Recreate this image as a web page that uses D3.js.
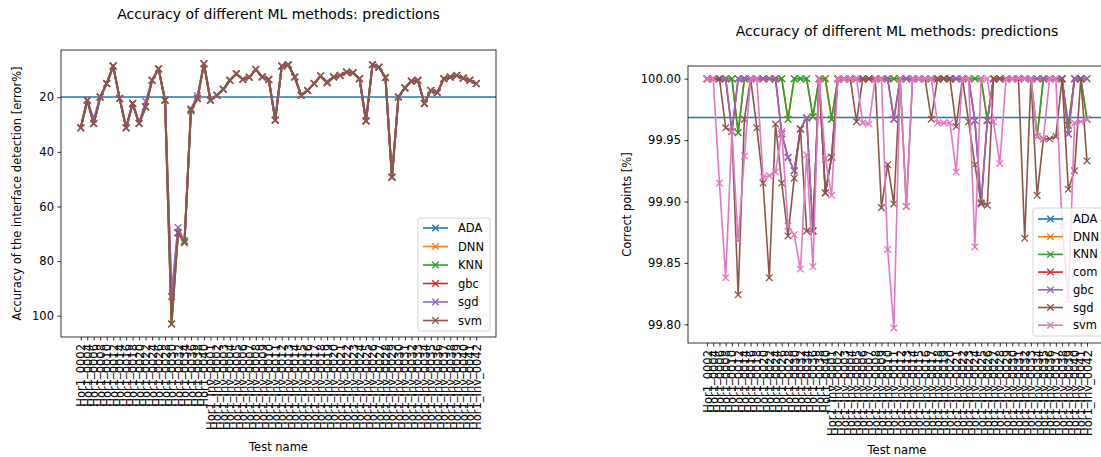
<!DOCTYPE html>
<html>
<head>
<meta charset="utf-8">
<script src="https://cdn.jsdelivr.net/npm/d3@7"></script>
<style>
  body { margin: 0; background: #fff; }
  svg text { font-family: "DejaVu Sans", sans-serif; fill: #000; }
</style>
</head>
<body>
<div id="chart"></div>
<script>
// Test names (x tick labels)
const testNames = [
  'Hor1_0002', 'Hor1_0004', 'Hor1_0006', 'Hor1_0008', 'Hor1_0010', 'Hor1_0012', 'Hor1_0014',
  'Hor1_0016', 'Hor1_0018', 'Hor1_0020', 'Hor1_0022', 'Hor1_0024', 'Hor1_0026', 'Hor1_0028',
  'Hor1_0030', 'Hor1_0032', 'Hor1_0034', 'Hor1_0036', 'Hor1_0038', 'Hor1_0040',
  'Hor1_Inv_0001', 'Hor1_Inv_0002', 'Hor1_Inv_0003', 'Hor1_Inv_0004', 'Hor1_Inv_0005',
  'Hor1_Inv_0006', 'Hor1_Inv_0007', 'Hor1_Inv_0008', 'Hor1_Inv_0009', 'Hor1_Inv_0010',
  'Hor1_Inv_0011', 'Hor1_Inv_0012', 'Hor1_Inv_0013', 'Hor1_Inv_0014', 'Hor1_Inv_0015',
  'Hor1_Inv_0016', 'Hor1_Inv_0017', 'Hor1_Inv_0018', 'Hor1_Inv_0019', 'Hor1_Inv_0020',
  'Hor1_Inv_0021', 'Hor1_Inv_0022', 'Hor1_Inv_0023', 'Hor1_Inv_0024', 'Hor1_Inv_0025',
  'Hor1_Inv_0026', 'Hor1_Inv_0027', 'Hor1_Inv_0028', 'Hor1_Inv_0029', 'Hor1_Inv_0030',
  'Hor1_Inv_0031', 'Hor1_Inv_0032', 'Hor1_Inv_0033', 'Hor1_Inv_0034', 'Hor1_Inv_0035',
  'Hor1_Inv_0036', 'Hor1_Inv_0037', 'Hor1_Inv_0038', 'Hor1_Inv_0039', 'Hor1_Inv_0040',
  'Hor1_Inv_0041', 'Hor1_Inv_0042'
];

// Left panel: interface detection error [%]
const leftMethods = ['ADA', 'DNN', 'KNN', 'gbc', 'sgd', 'svm'];
const leftAdaLevel = 19.9;
const leftDnn = [31.2, 21.1, 29.6, 19.9, 15.0, 8.6, 20.5, 31.2, 22.3, 29.6, 23.5, 13.8, 9.6, 21.1, 103.0, 69.6, 73.2, 24.4, 20.5, 7.7,
  21.1, 19.3, 17.1, 13.8, 11.4, 13.5, 12.7, 9.8, 12.6, 13.5, 28.4, 8.6, 8.1, 12.6, 19.3, 17.5, 15.0, 12.2, 14.7, 12.6,
  12.0, 10.8, 11.0, 13.2, 28.7, 8.1, 9.0, 12.8, 49.3, 19.9, 16.6, 14.1, 13.8, 22.3, 17.5, 18.3, 13.2, 12.6, 12.0, 13.0, 13.8, 15.0];
const leftKnn = [31.2, 21.1, 29.6, 19.9, 15.0, 8.6, 20.5, 31.2, 22.3, 29.6, 23.5, 13.8, 9.6, 21.1, 103.0, 69.6, 72.5, 25.0, 20.5, 7.7,
  21.1, 19.3, 17.1, 13.8, 11.4, 13.5, 12.7, 9.8, 12.6, 13.5, 28.4, 8.6, 8.1, 12.6, 19.3, 17.5, 15.0, 12.2, 14.7, 12.6,
  12.0, 10.8, 11.0, 13.2, 28.7, 8.1, 9.0, 12.8, 49.3, 19.9, 16.6, 14.1, 13.8, 22.3, 17.5, 18.3, 13.2, 12.6, 12.0, 13.0, 13.8, 15.0];
const leftGbc = [31.2, 21.1, 29.6, 19.9, 15.0, 8.6, 20.5, 31.2, 22.3, 29.6, 23.5, 13.8, 9.6, 21.1, 93.0, 69.6, 73.2, 24.4, 20.5, 7.7,
  21.1, 19.3, 17.1, 13.8, 11.4, 13.5, 12.7, 9.8, 12.6, 13.5, 28.4, 8.6, 8.1, 12.6, 19.3, 17.5, 15.0, 12.2, 14.7, 12.6,
  12.0, 10.8, 11.0, 13.2, 28.7, 8.1, 9.0, 12.8, 49.3, 19.9, 16.6, 14.1, 13.8, 22.3, 17.5, 18.3, 13.2, 12.6, 12.0, 13.0, 13.8, 15.0];
const leftSgd = [31.2, 21.1, 28.0, 19.9, 15.0, 8.6, 20.5, 31.2, 22.3, 29.6, 21.5, 13.8, 9.6, 21.1, 93.0, 67.7, 73.2, 24.4, 19.5, 7.7,
  21.1, 19.3, 17.1, 13.8, 11.4, 13.5, 12.7, 9.8, 12.6, 13.5, 28.4, 8.6, 8.1, 12.6, 19.3, 17.5, 15.0, 12.2, 14.2, 12.6,
  12.0, 10.8, 11.0, 13.2, 28.7, 8.1, 9.0, 12.8, 49.3, 19.9, 16.6, 14.1, 13.8, 22.3, 17.5, 18.3, 13.2, 12.6, 12.0, 13.0, 13.8, 15.0];
const leftSvm = [31.2, 21.1, 29.6, 19.9, 15.0, 8.6, 20.5, 31.2, 22.3, 29.6, 23.5, 13.8, 9.6, 21.1, 103.0, 69.6, 73.2, 24.4, 20.5, 7.7,
  21.1, 19.3, 17.1, 13.8, 11.4, 13.5, 12.7, 9.8, 12.6, 13.5, 28.4, 8.6, 8.1, 12.6, 19.3, 17.5, 15.0, 12.2, 14.7, 12.6,
  12.0, 10.8, 11.0, 13.2, 28.7, 8.1, 9.0, 12.8, 49.3, 19.9, 16.6, 14.1, 13.8, 22.3, 17.5, 18.3, 13.2, 12.6, 12.0, 13.0, 13.8, 15.0];
const leftTicks = [20, 40, 60, 80, 100];

// Right panel: correct points [%]
const rightMethods = ['ADA', 'DNN', 'KNN', 'com', 'gbc', 'sgd', 'svm'];
const rightAdaLevel = 99.9684;
const rightKnn = [100, 100, 100, 100, 100, 99.956, 100, 100, 100, 100, 100, 100, 100, 99.967, 100, 100, 100, 99.969, 100, 100,
  99.967, 100, 100, 100, 100, 100, 100, 100, 100, 100, 100, 100, 100, 100, 100, 100, 100, 100, 100, 100,
  100, 100, 100, 100, 100, 99.966, 100, 100, 100, 100, 100, 100, 100, 99.953, 100, 100, 100, 100, 99.962, 100, 100, 99.967];
const rightDnn = [100, 100, 100, 100, 100, 99.956, 100, 100, 100, 100, 100, 100, 100, 99.967, 100, 100, 100, 99.969, 100, 100,
  99.967, 100, 100, 100, 100, 100, 100, 100, 100, 100, 100, 100, 100, 100, 100, 100, 100, 100, 100, 100,
  100, 100, 100, 100, 100, 99.966, 100, 100, 100, 100, 100, 100, 100, 99.953, 100, 100, 100, 100, 99.962, 100, 100, 99.967];
const rightGbc = [100, 100, 100, 100, 99.957, 100, 100, 100, 100, 100, 100, 100, 99.955, 99.936, 99.925, 99.959, 99.968, 99.876, 100, 99.907,
  99.936, 100, 100, 100, 100, 100, 100, 100, 100, 100, 99.967, 100, 100, 100, 100, 100, 100, 100, 100, 100,
  100, 100, 100, 99.966, 99.898, 99.966, 100, 100, 100, 100, 100, 100, 100, 100, 100, 100, 100, 100, 99.955, 100, 100, 100];
const rightCom = [100, 100, 100, 100, 99.957, 100, 100, 100, 100, 100, 100, 100, 99.955, 99.936, 99.925, 99.959, 99.968, 99.876, 100, 99.907,
  99.936, 100, 100, 100, 100, 100, 100, 100, 100, 100, 99.967, 100, 100, 100, 100, 100, 100, 100, 100, 100,
  100, 100, 100, 99.966, 99.898, 99.966, 100, 100, 100, 100, 100, 100, 100, 100, 100, 100, 100, 100, 99.955, 100, 100, 100];
const rightSgd = [100, 100, 100, 99.960, 99.957, 99.824, 99.967, 100, 99.960, 99.915, 99.838, 99.963, 99.915, 99.872, 99.919, 99.959, 99.876, 99.876, 100, 99.907,
  99.936, 100, 100, 100, 99.965, 100, 100, 100, 99.895, 99.930, 99.898, 100, 99.896, 100, 100, 100, 99.967, 100, 100, 100,
  99.961, 100, 99.965, 99.930, 99.899, 99.897, 100, 100, 100, 100, 100, 99.870, 100, 99.905, 99.951, 99.951, 99.953, 100, 99.910, 99.925, 100, 99.933];
const rightSvm = [100, 100, 99.915, 99.838, 99.957, 99.868, 99.937, 100, 100, 99.920, 99.921, 99.924, 99.957, 99.880, 99.873, 99.845, 99.938, 99.847, 100, 99.935,
  99.905, 100, 100, 100, 100, 99.964, 99.963, 100, 100, 99.861, 99.797, 100, 99.896, 100, 100, 100, 100, 99.964, 99.964, 99.964,
  99.924, 100, 100, 99.863, 100, 100, 99.965, 99.931, 100, 100, 100, 100, 100, 99.953, 99.951, 100, 100, 99.880, 99.820, 99.964, 99.965, 99.967];
const rightTicks = [99.80, 99.85, 99.90, 99.95, 100.00];

const colors = ['#1f77b4', '#ff7f0e', '#2ca02c', '#d62728', '#9467bd', '#8c564b', '#e377c2'];

const width = 1101;
const height = 457;

const svg = d3.select('#chart')
  .append('svg')
  .attr('width', width)
  .attr('height', height);

// x marker shape
function cross(r) {
  return `M${-r},${-r}L${r},${r}M${-r},${r}L${r},${-r}`;
}

function drawPanel(cfg) {
  const g = svg.append('g');
  const n = testNames.length;

  const x = d3.scaleLinear()
    .domain([-0.05 * (n - 1), (n - 1) * 1.05])
    .range([cfg.left, cfg.right]);
  const y = d3.scaleLinear()
    .domain(cfg.yDomain)
    .range(cfg.yRange);

  // clip marks to the axes box
  const clipId = 'clip-' + cfg.id;
  svg.append('clipPath').attr('id', clipId)
    .append('rect')
    .attr('x', cfg.left).attr('y', cfg.top)
    .attr('width', cfg.right - cfg.left).attr('height', cfg.bottom - cfg.top);

  const plot = g.append('g').attr('clip-path', `url(#${clipId})`);

  // reference level (ADA)
  plot.append('line')
    .attr('x1', cfg.left).attr('x2', cfg.right)
    .attr('y1', y(cfg.refLevel)).attr('y2', y(cfg.refLevel))
    .attr('stroke', colors[0])
    .attr('stroke-width', 1.6);

  const line = d3.line()
    .x((d, i) => x(i))
    .y(d => y(d));

  cfg.series.forEach(s => {
    plot.append('path')
      .datum(s.values)
      .attr('d', line)
      .attr('fill', 'none')
      .attr('stroke', s.color)
      .attr('stroke-width', cfg.lineWidth)
      .attr('stroke-linejoin', 'round');

    plot.selectAll(null)
      .data(s.values)
      .enter()
      .append('path')
      .attr('transform', (d, i) => `translate(${x(i)},${y(d)})`)
      .attr('d', cross(3.3))
      .attr('stroke', s.color)
      .attr('stroke-width', 1.3);
  });

  // axes
  const xAxis = d3.axisBottom(x)
    .tickValues(d3.range(n))
    .tickFormat(i => testNames[i])
    .tickSize(3.5)
    .tickPadding(3.5);

  const xg = g.append('g')
    .attr('transform', `translate(0,${cfg.bottom})`)
    .call(xAxis);
  xg.select('.domain').remove();
  xg.selectAll('line').attr('stroke', '#000').attr('stroke-width', 0.8);
  xg.selectAll('text')
    .attr('transform', 'rotate(-90)')
    .attr('text-anchor', 'end')
    .attr('x', -7)
    .attr('y', 0)
    .attr('dy', '0.35em')
    .attr('font-size', '11.5px')
    .attr('font-family', '"DejaVu Sans", sans-serif');

  const yAxis = d3.axisLeft(y)
    .tickValues(cfg.yTicks)
    .tickFormat(cfg.tickFormat)
    .tickSize(3.5)
    .tickPadding(3.5);

  const yg = g.append('g')
    .attr('transform', `translate(${cfg.left},0)`)
    .call(yAxis);
  yg.select('.domain').remove();
  yg.selectAll('line').attr('stroke', '#000').attr('stroke-width', 0.8);
  yg.selectAll('text')
    .attr('font-size', '11.5px')
    .attr('font-family', '"DejaVu Sans", sans-serif');

  // frame
  g.append('rect')
    .attr('x', cfg.left).attr('y', cfg.top)
    .attr('width', cfg.right - cfg.left).attr('height', cfg.bottom - cfg.top)
    .attr('fill', 'none')
    .attr('stroke', '#000')
    .attr('stroke-width', 0.8);

  // title and labels
  g.append('text')
    .attr('x', (cfg.left + cfg.right) / 2)
    .attr('y', cfg.titleY)
    .attr('text-anchor', 'middle')
    .attr('font-size', '14px')
    .text('Accuracy of different ML methods: predictions');

  g.append('text')
    .attr('x', (cfg.left + cfg.right) / 2)
    .attr('y', cfg.xLabelY)
    .attr('text-anchor', 'middle')
    .attr('font-size', '11.5px')
    .text('Test name');

  g.append('text')
    .attr('transform', `translate(${cfg.yLabelX},${(cfg.top + cfg.bottom) / 2}) rotate(-90)`)
    .attr('text-anchor', 'middle')
    .attr('font-size', '11.5px')
    .text(cfg.yLabel);

  // legend
  const lg = g.append('g');
  lg.append('rect')
    .attr('x', cfg.legend.x).attr('y', cfg.legend.y)
    .attr('width', cfg.legend.w).attr('height', cfg.legend.h)
    .attr('rx', 2)
    .attr('fill', '#fff').attr('fill-opacity', 0.8)
    .attr('stroke', '#ccc').attr('stroke-width', 0.8);

  cfg.methods.forEach((m, k) => {
    const ly = cfg.legend.y + cfg.legend.first + k * cfg.legend.step;
    const lx = cfg.legend.x + 5;
    lg.append('line')
      .attr('x1', lx).attr('x2', lx + 25)
      .attr('y1', ly).attr('y2', ly)
      .attr('stroke', colors[k]).attr('stroke-width', 1.6);
    lg.append('path')
      .attr('transform', `translate(${lx + 12.5},${ly})`)
      .attr('d', cross(3.3))
      .attr('stroke', colors[k]).attr('stroke-width', 1.3);
    lg.append('text')
      .attr('x', lx + 35)
      .attr('y', ly)
      .attr('dy', '0.35em')
      .attr('font-size', '11.5px')
      .text(m);
  });
}

drawPanel({
  id: 'left',
  left: 61, right: 496, top: 50, bottom: 337,
  yDomain: [2.7, 107.8], yRange: [50, 337],
  yTicks: leftTicks, tickFormat: d3.format('d'),
  refLevel: leftAdaLevel,
  lineWidth: 2,
  series: [
    { values: leftDnn, color: colors[1] },
    { values: leftKnn, color: colors[2] },
    { values: leftGbc, color: colors[3] },
    { values: leftSgd, color: colors[4] },
    { values: leftSvm, color: colors[5] }
  ],
  methods: leftMethods,
  titleY: 19, xLabelY: 451, yLabelX: 21,
  yLabel: 'Accuracy of the interface detection [error%]',
  legend: { x: 418, y: 218, w: 72, h: 113, first: 10, step: 18.5 }
});

drawPanel({
  id: 'right',
  left: 688, right: 1106, top: 66, bottom: 343,
  yDomain: [99.7848, 100.0103], yRange: [343, 66],
  yTicks: rightTicks, tickFormat: d3.format('.2f'),
  refLevel: rightAdaLevel,
  lineWidth: 1.6,
  series: [
    { values: rightDnn, color: colors[1] },
    { values: rightKnn, color: colors[2] },
    { values: rightCom, color: colors[3] },
    { values: rightGbc, color: colors[4] },
    { values: rightSgd, color: colors[5] },
    { values: rightSvm, color: colors[6] }
  ],
  methods: rightMethods,
  titleY: 36, xLabelY: 454, yLabelX: 631,
  yLabel: 'Correct points [%]',
  legend: { x: 1033, y: 208, w: 80, h: 128, first: 11, step: 17.7 }
});
</script>
</body>
</html>
